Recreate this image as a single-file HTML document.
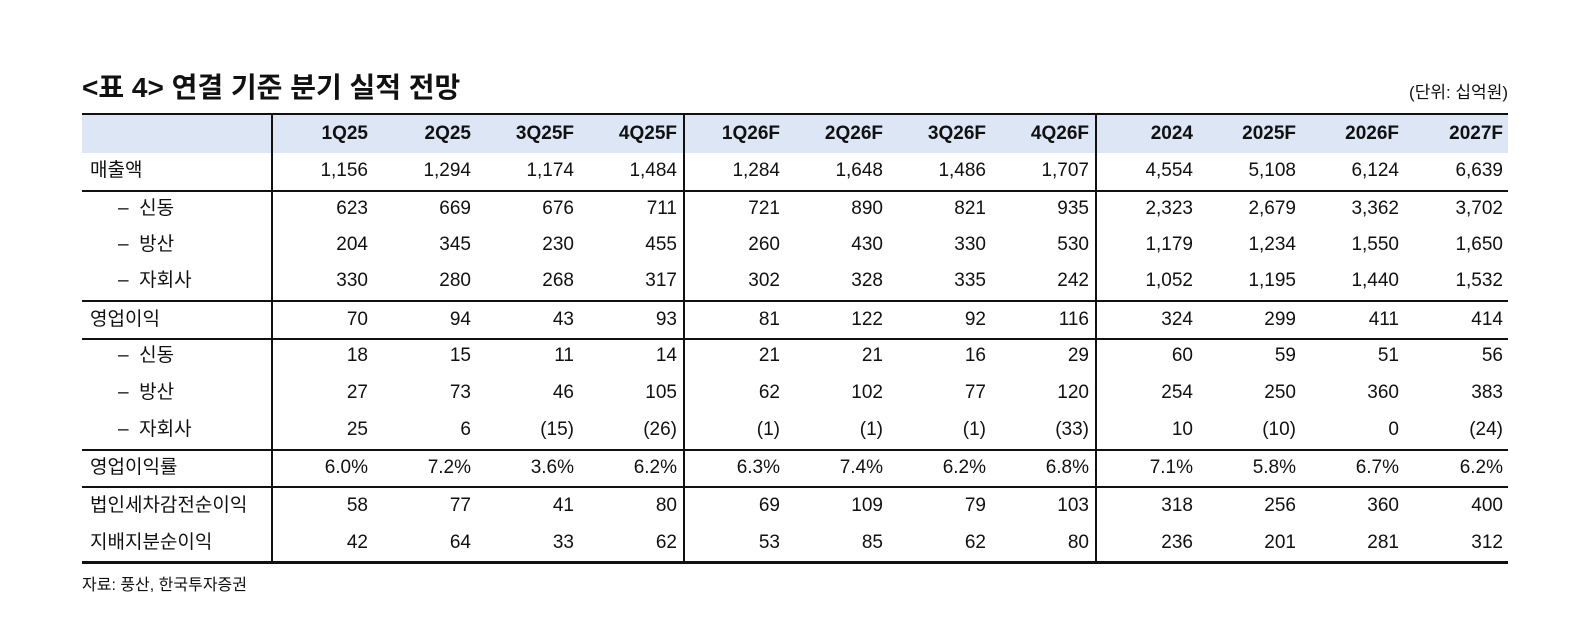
<!DOCTYPE html>
<html><head><meta charset="utf-8"><style>
body{margin:0;width:1580px;height:625px;background:#fff;position:relative;font-family:"Liberation Sans","Noto Sans CJK KR",sans-serif;color:#111;overflow:hidden}
.t{position:absolute;white-space:nowrap}
.title{left:82px;top:66px;font-size:28px;font-weight:bold}
.unit{right:72px;top:78px;font-size:17px}
.hdr{position:absolute;left:82px;top:115px;width:1426px;height:38px;background:#dce6f5}
.h{position:absolute;left:82px;width:1426px;background:#111}
.v{position:absolute;width:1.5px;background:#111;top:114px;height:449px}
.row{position:absolute;left:0;width:1580px;height:36px;font-size:19px}
.row span{position:absolute;top:0;line-height:36px}
.lab{left:90px}
.sub{left:118px}
.n{text-align:right;width:100px}
.foot{left:82px;top:571px;font-size:16px}
</style></head><body>
<div class="t title">&lt;표 4&gt; 연결 기준 분기 실적 전망</div>
<div class="t unit">(단위: 십억원)</div>
<div class="hdr"></div>
<div class="h" style="top:113px;height:2px"></div>
<div class="h" style="top:190px;height:1.5px"></div>
<div class="h" style="top:300px;height:1.5px"></div>
<div class="h" style="top:338px;height:1.5px"></div>
<div class="h" style="top:449px;height:1.5px"></div>
<div class="h" style="top:486px;height:1.5px"></div>
<div class="h" style="top:561px;height:2.5px"></div>
<div class="v" style="left:271px"></div>
<div class="v" style="left:683px"></div>
<div class="v" style="left:1095px"></div>
<div id="rows"></div>
<div class="t foot">자료: 풍산, 한국투자증권</div>
<script>
var R=[368,471,574,677,780,883,986,1089,1193,1296,1399,1503];
var D=[
[134,"",["1Q25","2Q25","3Q25F","4Q25F","1Q26F","2Q26F","3Q26F","4Q26F","2024","2025F","2026F","2027F"]],
[171,"매출액","1,156 1,294 1,174 1,484 1,284 1,648 1,486 1,707 4,554 5,108 6,124 6,639"],
[209,"*– 신동","623 669 676 711 721 890 821 935 2,323 2,679 3,362 3,702"],
[245,"*– 방산","204 345 230 455 260 430 330 530 1,179 1,234 1,550 1,650"],
[281,"*– 자회사","330 280 268 317 302 328 335 242 1,052 1,195 1,440 1,532"],
[320,"영업이익","70 94 43 93 81 122 92 116 324 299 411 414"],
[356,"*– 신동","18 15 11 14 21 21 16 29 60 59 51 56"],
[393,"*– 방산","27 73 46 105 62 102 77 120 254 250 360 383"],
[430,"*– 자회사","25 6 (15) (26) (1) (1) (1) (33) 10 (10) 0 (24)"],
[468,"영업이익률","6.0% 7.2% 3.6% 6.2% 6.3% 7.4% 6.2% 6.8% 7.1% 5.8% 6.7% 6.2%"],
[506,"법인세차감전순이익","58 77 41 80 69 109 79 103 318 256 360 400"],
[543,"지배지분순이익","42 64 33 62 53 85 62 80 236 201 281 312"]];
var h="";
D.forEach(function(d,i){var v=typeof d[2]=="string"?d[2].split(" "):d[2];
var l=d[1],c="lab";if(l.charAt(0)=="*"){c="sub";l=l.slice(1).replace(" ","&nbsp;&nbsp;");}
h+='<div class="row" style="top:'+(d[0]-18)+'px'+(i==0?';font-weight:bold':'')+'"><span class="'+c+'">'+l+'</span>';
v.forEach(function(x,j){h+='<span class="n" style="left:'+(R[j]-100)+'px">'+x+'</span>';});h+='</div>';});
document.getElementById("rows").innerHTML=h;
</script>
</body></html>
